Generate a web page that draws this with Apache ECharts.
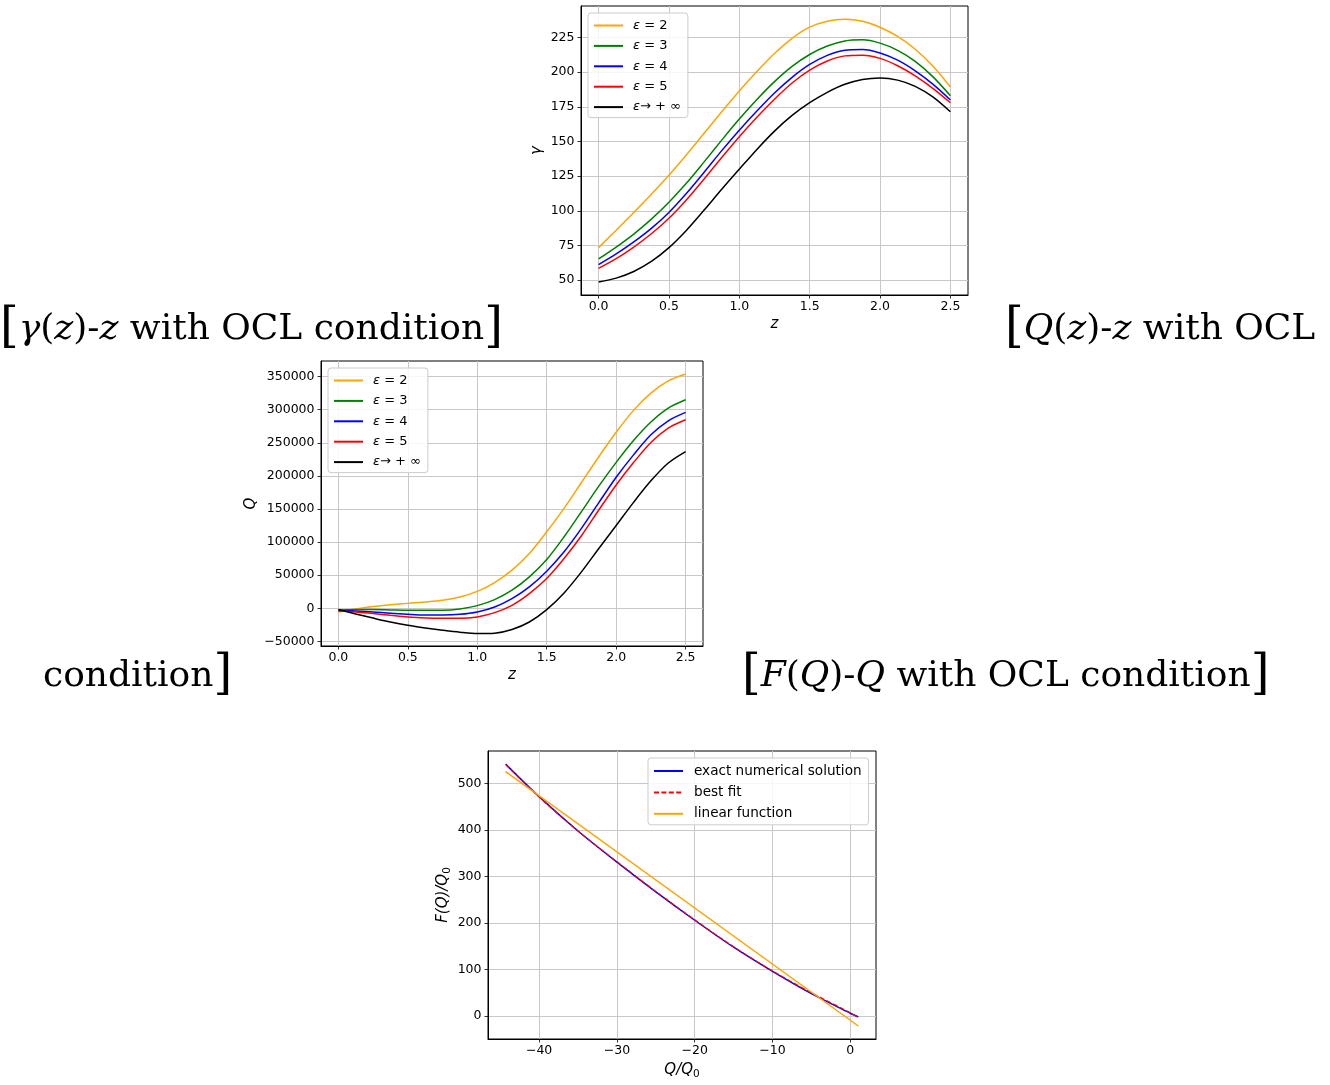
<!DOCTYPE html>
<html>
<head>
<meta charset="utf-8">
<script src="https://cdn.jsdelivr.net/npm/echarts@6/dist/echarts.min.js"></script>
<style>
  html, body { margin: 0; padding: 0; background: #fff; }
  #main { width: 1330px; height: 1085px; }
</style>
</head>
<body>
<div id="main"></div>
<script>
// ---- data ----
const zs = [0, 0.125, 0.25, 0.375, 0.5, 0.625, 0.75, 0.875, 1.0, 1.125, 1.25,
            1.375, 1.5, 1.625, 1.75, 1.875, 2.0, 2.125, 2.25, 2.375, 2.5];
const epsNames = ['ε = 2', 'ε = 3', 'ε = 4', 'ε = 5', 'ε→ + ∞'];
const epsColors = ['#ffa500', '#008000', '#0000ff', '#ff0000', '#000000'];

// gamma(z)
const gamma2 = [73.4, 86, 98.8, 112, 125.7, 140.5, 156, 171.5, 186.5, 200.5, 213.5,
                224.5, 232.5, 236.8, 238.3, 236.8, 232.5, 225.8, 216.6, 204.5, 189.4];
const gamma3 = [65.2, 73.8, 83.2, 94, 106.2, 120, 135.3, 151, 166.2, 180.3, 193.2,
                204.2, 212.8, 218.9, 222.6, 223.4, 221, 215.8, 207.8, 196.8, 183];
const gamma4 = [61.1, 68.8, 77.5, 87.3, 98.8, 112.6, 127.8, 143.4, 158.2, 172, 185,
                196.3, 205.6, 212.2, 215.9, 216.4, 213.9, 208.7, 201, 191.4, 180];
const gamma5 = [58.4, 65.4, 73.8, 83.4, 94.6, 108, 123, 138.5, 153.5, 167.5, 180.5,
                192.2, 201.5, 208.1, 211.8, 212.3, 210, 204.7, 197.4, 188.4, 178];
const gammaInf = [48.6, 51.4, 56.2, 63.4, 73.4, 86, 100.5, 115.5, 130, 144.3, 157.5,
                  168.8, 178, 185.5, 191.3, 194.8, 195.9, 194.3, 189.8, 182.2, 171.5];

// Q(z)
const q2 = [-5500, -1000, 2500, 5200, 7400, 9400, 12000, 17000, 25500, 38900, 57600,
            82800, 115600, 151000, 190000, 229000, 266000, 299000, 325000, 343500, 354000];
const q3 = [-3500, -2000, -2000, -2500, -3000, -3000, -3000, -1000, 4000, 13100, 27300,
            47500, 73700, 108000, 146000, 184500, 220500, 253500, 281500, 302500, 315100];
const q4 = [-3000, -4000, -5500, -7600, -9100, -10100, -10100, -9100, -5500, 2000, 14600,
            32300, 56000, 85300, 120700, 159600, 198000, 231800, 262100, 283300, 296000];
const q5 = [-4000, -5500, -8000, -10600, -13100, -14600, -15200, -15200, -13100, -6600, 4500,
            22200, 45000, 75200, 109600, 148500, 186300, 220200, 250500, 272200, 284800];
const qInf = [-2000, -8500, -14800, -20800, -25800, -29800, -33200, -36200, -38200, -37600, -32000,
              -20700, -2000, 23200, 55000, 90400, 125000, 160000, 192500, 219500, 236800];

// F(Q)/Q0 vs Q/Q0
const fqX = [-44.3, -40, -35, -30, -25, -20, -15, -10, -5, 0, 1.03];
const fExact = [542, 472, 398, 331, 267, 206, 148, 96, 48, 6, -2];
const fFit = [541, 471, 398, 332, 268, 207, 149, 97, 50, 7, -4];
const linX = [-44.3, 1.03];
const linY = [526, -21.5];
const fqNames = ['exact numerical solution', 'best fit', 'linear function'];

// tick labels
const zTicks = [0, 0.5, 1.0, 1.5, 2.0, 2.5];
const gammaTicks = [50, 75, 100, 125, 150, 175, 200, 225];
const qTicks = [-50000, 0, 50000, 100000, 150000, 200000, 250000, 300000, 350000];
const fxTicks = [-40, -30, -20, -10, 0];
const fyTicks = [0, 100, 200, 300, 400, 500];

const pair = (xs, ys) => xs.map((x, i) => [x, ys[i]]);
const minus = v => String(v).replace('-', '\u2212');

const FONT = 'DejaVu Sans';
const SERIF = 'DejaVu Serif';

const nameRich = {
  i: { fontFamily: FONT, fontSize: 15, fontStyle: 'italic', color: '#000' },
  n: { fontFamily: FONT, fontSize: 15, color: '#000' },
  s: { fontFamily: FONT, fontSize: 10.5, fontStyle: 'normal', color: '#000', padding: [8, 0, 0, 0] }
};

function valueAxis(gridIndex, min, max, ticks, fmt, name, nameGap, labelMargin) {
  return {
    type: 'value', gridIndex, min, max,
    name, nameLocation: 'middle', nameGap,
    nameTextStyle: { fontFamily: FONT, fontSize: 15, fontStyle: 'italic', color: '#000', rich: nameRich },
    axisLine: { show: true, onZero: false, lineStyle: { color: '#000', width: 1 } },
    axisTick: { show: true, length: 3.5, customValues: ticks, lineStyle: { color: '#000', width: 0.8 } },
    axisLabel: { customValues: ticks, formatter: fmt, margin: labelMargin, color: '#000', fontFamily: FONT, fontSize: 12.5 },
    splitLine: { show: true, lineStyle: { color: '#c8c8c8', width: 1 } }
  };
}

function legend(left, top, names, fontSize, textPad) {
  return {
    orient: 'vertical', left, top, data: names,
    itemWidth: 29, itemHeight: 14, itemGap: 7.4,
    padding: [6, 7, 4, 5],
    backgroundColor: 'rgba(255,255,255,0.85)',
    borderColor: '#cccccc', borderWidth: 1, borderRadius: 3,
    selectedMode: false,
    itemStyle: { opacity: 0, borderWidth: 0 },
    formatter: n => n.startsWith('ε') ? '{e|ε}' + n.slice(1) : n,
    textStyle: {
      fontFamily: FONT, fontSize, color: '#000', padding: [0, 0, 0, textPad],
      rich: { e: { fontFamily: FONT, fontSize, fontStyle: 'italic', color: '#000' } }
    }
  };
}

const series = [];
[gamma2, gamma3, gamma4, gamma5, gammaInf].forEach((ys, i) => {
  series.push({ type: 'line', name: epsNames[i], xAxisIndex: 0, yAxisIndex: 0, data: pair(zs, ys),
    symbol: 'none', smooth: 0.3, lineStyle: { color: epsColors[i], width: 1.5 }, itemStyle: { color: epsColors[i] } });
});
[q2, q3, q4, q5, qInf].forEach((ys, i) => {
  series.push({ type: 'line', name: epsNames[i], xAxisIndex: 1, yAxisIndex: 1, data: pair(zs, ys),
    symbol: 'none', smooth: 0.3, lineStyle: { color: epsColors[i], width: 1.5 }, itemStyle: { color: epsColors[i] } });
});
series.push({ type: 'line', name: fqNames[0], xAxisIndex: 2, yAxisIndex: 2, data: pair(fqX, fExact),
  symbol: 'none', smooth: 0.3, lineStyle: { color: '#0000ff', width: 1.5 }, itemStyle: { color: '#0000ff' } });
series.push({ type: 'line', name: fqNames[1], xAxisIndex: 2, yAxisIndex: 2, data: pair(fqX, fFit),
  symbol: 'none', smooth: 0.3, lineStyle: { color: '#ff0000', width: 1.2, type: [5, 2.4] }, itemStyle: { color: '#ff0000' } });
series.push({ type: 'line', name: fqNames[2], xAxisIndex: 2, yAxisIndex: 2, data: pair(linX, linY),
  symbol: 'none', lineStyle: { color: '#ffa500', width: 1.5 }, itemStyle: { color: '#ffa500' } });

const capRich = {
  b: { fontFamily: SERIF, fontSize: 48, color: '#000' },
  m: { fontFamily: SERIF, fontSize: 36, fontStyle: 'italic', color: '#000' },
  t: { fontFamily: SERIF, fontSize: 36, color: '#000' }
};
function caption(x, y, text) {
  return { type: 'text', x, y, silent: true,
    style: { text, fontFamily: SERIF, fontSize: 36, fill: '#000', verticalAlign: 'middle', align: 'left', rich: capRich } };
}

const chart = echarts.init(document.getElementById('main'), null, { renderer: 'canvas' });
chart.setOption({
  animation: false,
  backgroundColor: '#ffffff',
  grid: [
    { left: 581, top: 6, width: 387, height: 289, show: true, borderColor: '#000', borderWidth: 1, backgroundColor: '#fff' },
    { left: 321, top: 361, width: 382, height: 285, show: true, borderColor: '#000', borderWidth: 1, backgroundColor: '#fff' },
    { left: 488, top: 751, width: 388, height: 288, show: true, borderColor: '#000', borderWidth: 1, backgroundColor: '#fff' }
  ],
  xAxis: [
    valueAxis(0, -0.125, 2.625, zTicks, v => v.toFixed(1), '{i|z}', 22, 5),
    valueAxis(1, -0.125, 2.625, zTicks, v => v.toFixed(1), '{i|z}', 22, 5),
    valueAxis(2, -46.57, 3.3, fxTicks, minus, '{i|Q}{n|/}{i|Q}{s|0}', 22, 5)
  ],
  yAxis: [
    valueAxis(0, 39.2, 247.8, gammaTicks, minus, '{i|γ}', 36, 6.5),
    valueAxis(1, -57000, 373600, qTicks, minus, '{i|Q}', 62, 6.5),
    valueAxis(2, -49.5, 570.2, fyTicks, minus, '{i|F}{n|(}{i|Q}{n|)/}{i|Q}{s|0}', 35, 6.5)
  ],
  legend: [
    legend(588, 13, epsNames, 13, 5),
    legend(328, 368, epsNames, 13, 5),
    legend(648, 758, fqNames, 13.6, 6)
  ],
  series,
  graphic: [
    caption(0, 330, '{b|[}{m|γ}{t|(}{m|z}{t|)-}{m|z}{t| with OCL condition}{b|]}'),
    caption(1005, 330, '{b|[}{m|Q}{t|(}{m|z}{t|)-}{m|z}{t| with OCL}'),
    caption(43, 677, '{t|condition}{b|]}'),
    caption(742, 677, '{b|[}{m|F}{t|(}{m|Q}{t|)-}{m|Q}{t| with OCL condition}{b|]}')
  ]
});
window.onresize = function () { chart.resize(); };
</script>
</body>
</html>
